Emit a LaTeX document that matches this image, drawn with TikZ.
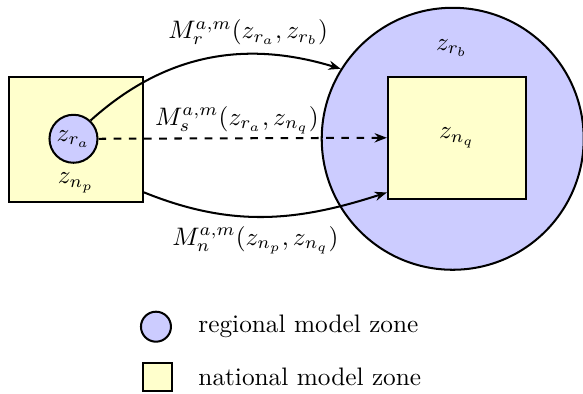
\documentclass[tikz,border=0pt]{standalone}
\usepackage{amsmath,amssymb}
\usepackage{tikz}
\usetikzlibrary{arrows.meta,positioning}
\definecolor{zoneBlue}{RGB}{204,204,255}
\definecolor{zoneYellow}{RGB}{255,255,204}
\tikzset{
  regzone/.style={circle, draw=black, thick, fill=zoneBlue, inner sep=0pt},
  natzone/.style={rectangle, draw=black, thick, fill=zoneYellow, inner sep=0pt},
  flow/.style={-{Stealth[length=1.7mm]}, thick},
  dashflow/.style={flow, dashed}
}

\begin{document}
\begin{tikzpicture}
\useasboundingbox (0,0) rectangle (8.10,5.47);
% national zone n_p holding regional zone r_a
\node[natzone, minimum width=1.86cm, minimum height=1.74cm] (np) at (1.056,3.535) {};
\node[regzone, minimum size=0.667cm] (ra) at (1.021,3.542) {$z_{r_a}$};
\node (nplab) at (1.056,2.931) {$z_{n_p}$};
% regional zone r_b holding national zone n_q
\node[regzone, minimum size=3.64cm] (rb) at (6.29,3.542) {};
\node (rblab) at (6.278,4.806) {$z_{r_b}$};
\node[natzone, minimum width=1.917cm, minimum height=1.695cm] (nq) at (6.348,3.556) {$z_{n_q}$};
% flows
\draw[flow] (ra.47) to[out=42, in=163] node[above=0pt, pos=0.66]{$M_r^{a,m}(z_{r_a}, z_{r_b})$} (rb.148);
\draw[dashflow] (ra.east) -- node[above=-2pt, pos=0.48]{$M_s^{a,m}(z_{r_a}, z_{n_q})$} (nq.west);
\draw[flow] (np.-38) to[out=-22, in=198] node[below=0pt, pos=0.46]{$M_n^{a,m}(z_{n_p}, z_{n_q})$} (nq.218);
% legend
\node[regzone, minimum size=0.417cm] (legreg) at (2.167,0.931) {};
\node[natzone, minimum width=0.40cm, minimum height=0.39cm] (legnat) at (2.188,0.236) {};
\node[anchor=west, inner sep=0pt] (legregtxt) at (2.75,0.931) {regional model zone};
\node[anchor=west, inner sep=0pt] (legnattxt) at (2.75,0.236) {national model zone};
\end{tikzpicture}
\end{document}
